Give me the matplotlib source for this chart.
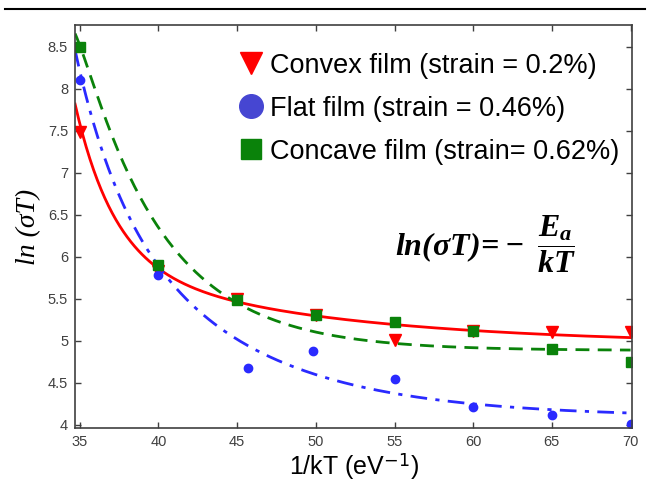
import numpy as np
import matplotlib
matplotlib.use('Agg')
import matplotlib.pyplot as plt
from matplotlib.lines import Line2D

plt.rcParams['font.family'] = ['Liberation Sans', 'DejaVu Sans']
plt.rcParams['mathtext.fontset'] = 'custom'
plt.rcParams['mathtext.rm'] = 'Liberation Serif:bold:italic'
plt.rcParams['mathtext.it'] = 'Liberation Serif:bold:italic'
plt.rcParams['mathtext.bf'] = 'Liberation Serif:bold:italic'

convex_x = [35, 40, 45, 50, 55, 60, 65, 70]
convex_y = [7.49, 5.83, 5.50, 5.31, 5.01, 5.11, 5.10, 5.10]

flat_x = [35, 40, 45.7, 49.8, 55, 60, 65, 70]
flat_y = [8.11, 5.78, 4.67, 4.88, 4.54, 4.21, 4.11, 4.01]

concave_x = [35, 40, 45, 50, 55, 60, 65, 70]
concave_y = [8.50, 5.90, 5.48, 5.30, 5.22, 5.12, 4.90, 4.74]

# fitted curves, values
fit_x = [34.7, 35, 36, 36.8, 37.9, 38.95, 40, 42.1, 44.9, 50, 55, 60, 65, 70]
convex_fit = [7.85, 7.54, 6.98, 6.62, 6.30, 6.02, 5.83, 5.63, 5.49, 5.29, 5.19, 5.12, 5.07, 5.04]
flat_fit = [8.44, 8.13, 7.65, 7.10, 6.62, 6.18, 5.79, 5.35, 5.03, 4.65, 4.44, 4.27, 4.16, 4.08]
concave_fit = [8.66, 8.52, 7.97, 7.57, 7.10, 6.66, 6.30, 5.87, 5.47, 5.13, 4.97, 4.92, 4.89, 4.87]

labels = ['Convex film (strain = 0.2%)',
          'Flat film (strain = 0.46%)',
          'Concave film (strain= 0.62%)']

RED, BLUE, GREEN = '#ff0000', '#2a2aff', '#0a820a'


def smooth(x, y):
    # least squares y = a + b*exp(-k1*(x-35)) + d*exp(-k2*(x-35))
    x = np.asarray(x, float)
    y = np.asarray(y, float)
    best = None
    for k1 in np.linspace(0.005, 0.35, 70):
        for k2 in np.linspace(0.36, 2.0, 42):
            A = np.column_stack([np.ones_like(x), np.exp(-k1 * (x - 35)),
                                 np.exp(-k2 * (x - 35))])
            coef = np.linalg.lstsq(A, y, rcond=None)[0]
            err = np.sum((A @ coef - y) ** 2)
            if best is None or err < best[0]:
                best = (err, coef, k1, k2)
    _, (a, b, d), k1, k2 = best
    xx = np.linspace(x.min(), x.max(), 300)
    return xx, a + b * np.exp(-k1 * (xx - 35)) + d * np.exp(-k2 * (xx - 35))


fig = plt.figure(figsize=(6.47, 4.83), dpi=100)
ax = fig.add_axes([0.116, 0.114, 0.861, 0.834])

xx, yy = smooth(fit_x, convex_fit)
ax.plot(xx, yy, color=RED, lw=2)
xx, yy = smooth(fit_x, flat_fit)
ax.plot(xx, yy, color=BLUE, lw=2, ls=(0, (6, 3, 1.5, 3)))
xx, yy = smooth(fit_x, concave_fit)
ax.plot(xx, yy, color=GREEN, lw=2, ls=(0, (5, 3)))

ax.plot(convex_x, convex_y, 'v', color=RED, ms=9, ls='none')
ax.plot(flat_x, flat_y, 'o', color=BLUE, ms=6, ls='none')
ax.plot(concave_x, concave_y, 's', color=GREEN, ms=7, ls='none')

leg_h = [Line2D([], [], marker='v', color=RED, ms=16, ls='none'),
         Line2D([], [], marker='o', color='#4646d2', ms=17, ls='none'),
         Line2D([], [], marker='s', color=GREEN, ms=15, ls='none')]
ax.legend(leg_h, labels, loc='upper left', bbox_to_anchor=(0.265, 0.978),
          frameon=False, fontsize=19.5, handlelength=0.7, handletextpad=0.35,
          labelspacing=0.62, borderaxespad=0.3)

ax.text(0.737, 0.455, r'$ln(\sigma T)\!=\!-\ \dfrac{E_a}{kT}$',
        transform=ax.transAxes, fontsize=23, ha='center', va='center')

ax.set_xlim(34.7, 70.1)
ax.set_ylim(3.96, 8.76)
ax.set_xticks([35, 40, 45, 50, 55, 60, 65, 70])
ax.set_yticks([4, 4.5, 5, 5.5, 6, 6.5, 7, 7.5, 8, 8.5])
ax.set_yticklabels(['4', '4.5', '5', '5.5', '6', '6.5', '7', '7.5', '8', '8.5'])
ax.tick_params(direction='in', top=True, right=True, length=4, width=1,
               labelsize=10.5, labelcolor='#404040', color='#404040', pad=5)
for s in ax.spines.values():
    s.set_color('#404040')
    s.set_linewidth(1.2)

ax.set_xlabel('1/kT (eV$^{\\mathsf{-1}}$)', fontsize=18, labelpad=2)
ax.set_ylabel('ln (σT)', fontsize=20, family='Liberation Serif',
              style='italic', labelpad=5)

fig.add_artist(Line2D([0.008, 0.997], [0.981, 0.981], color='black', lw=1.5))

fig.savefig('out.png', dpi=100)
